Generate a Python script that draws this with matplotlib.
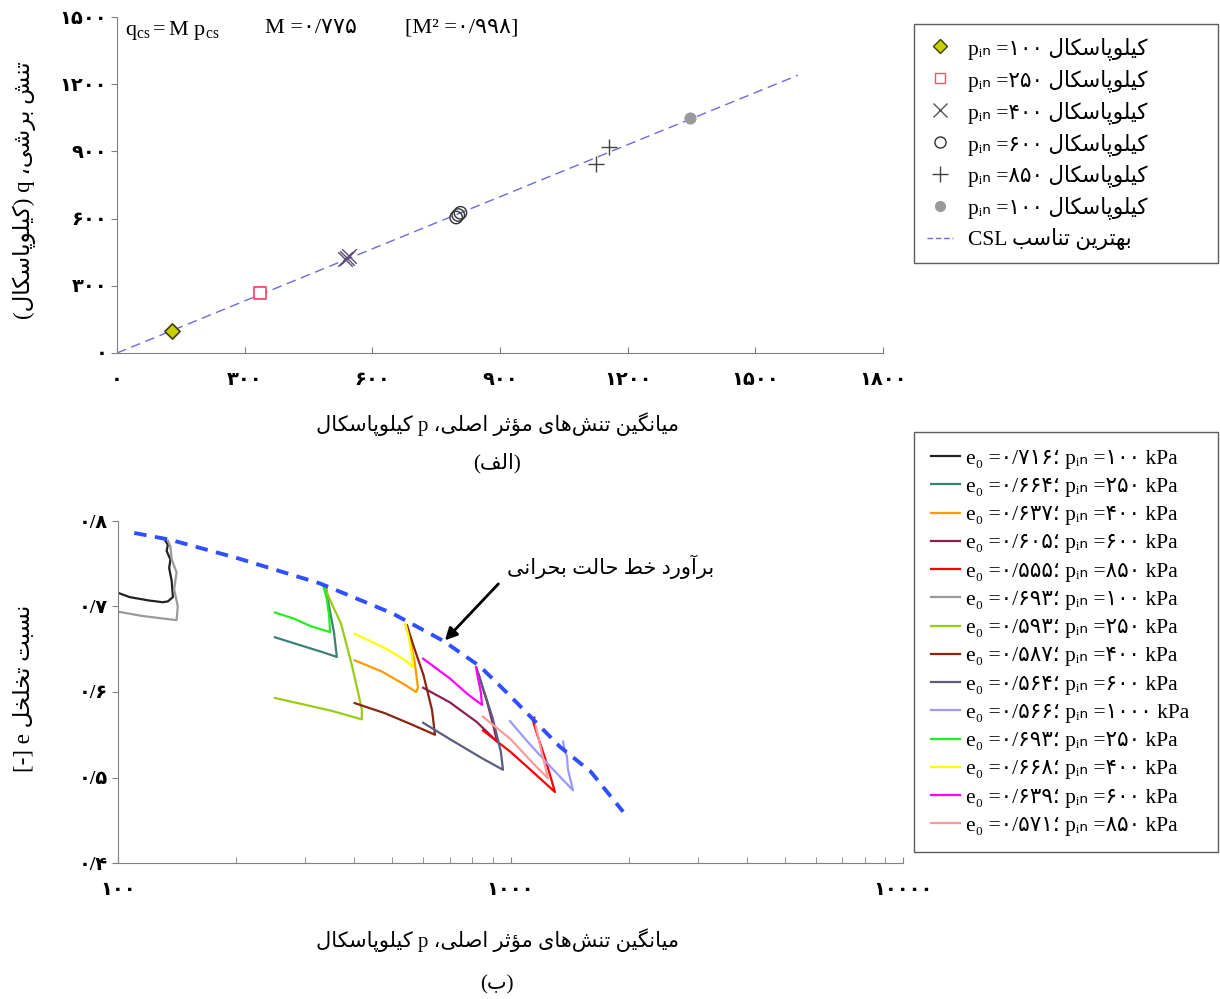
import matplotlib
matplotlib.use('Agg')
import matplotlib.pyplot as plt
from matplotlib import font_manager, ft2font
from matplotlib.ticker import FuncFormatter, MultipleLocator, LogLocator, NullFormatter
from matplotlib.lines import Line2D

plt.rcParams['font.family'] = ['Liberation Serif', 'DejaVu Sans']
plt.rcParams['mathtext.fontset'] = 'custom'
plt.rcParams['mathtext.rm'] = 'Liberation Serif'
plt.rcParams['mathtext.it'] = 'Liberation Serif:italic'

# ---- data: top chart, critical state points (p, q) in kPa ----
cs_p_100 = [129]
cs_q_100 = [98]
cs_p_250 = [336]
cs_q_250 = [268]
cs_p_400 = [535, 541, 546]
cs_q_400 = [419, 425, 431]
cs_p_600 = [797, 802, 807]
cs_q_600 = [605, 616, 626]
cs_p_850 = [1126, 1155]
cs_q_850 = [844, 920]
cs_p_1000 = [1346]
cs_q_1000 = [1049]
csl_p = [0, 1600]
csl_q = [0, 1240]

# ---- data: bottom chart, e - log p paths ----
curve_p = [
    [100, 107, 120, 130, 134, 138, 137, 135, 136, 133, 134, 132],
    [251, 290, 330, 361, 355, 345, 339],
    [401, 470, 540, 575, 581, 570, 555, 540],
    [599, 700, 820, 924, 905, 870, 830],
    [851, 1000, 1150, 1298, 1230, 1170, 1141, 1150],
    [100, 115, 130, 141, 142, 139, 141, 137, 136, 134],
    [251, 300, 350, 418, 418, 395, 370, 345, 335],
    [401, 480, 560, 642, 631, 600, 565, 545],
    [599, 700, 850, 957, 945, 900, 850, 820],
    [997, 1100, 1250, 1443, 1400, 1393, 1370, 1361],
    [251, 280, 310, 347, 345, 340, 333],
    [401, 480, 540, 564, 560, 550, 540],
    [599, 700, 780, 846, 840, 825, 817],
    [851, 1000, 1150, 1246, 1200, 1160],
]
curve_e = [
    [0.716, 0.711, 0.707, 0.705, 0.706, 0.711, 0.73, 0.745, 0.755, 0.765, 0.772, 0.777],
    [0.664, 0.655, 0.647, 0.641, 0.67, 0.70, 0.722],
    [0.637, 0.624, 0.608, 0.600, 0.605, 0.635, 0.66, 0.678],
    [0.605, 0.588, 0.565, 0.542, 0.56, 0.59, 0.62],
    [0.555, 0.530, 0.505, 0.483, 0.52, 0.55, 0.566, 0.57],
    [0.694, 0.689, 0.686, 0.684, 0.70, 0.72, 0.74, 0.755, 0.77, 0.777],
    [0.593, 0.585, 0.578, 0.568, 0.58, 0.63, 0.68, 0.71, 0.725],
    [0.587, 0.575, 0.562, 0.550, 0.579, 0.62, 0.655, 0.678],
    [0.564, 0.545, 0.522, 0.509, 0.53, 0.57, 0.605, 0.628],
    [0.566, 0.543, 0.515, 0.485, 0.51, 0.524, 0.535, 0.542],
    [0.693, 0.686, 0.677, 0.670, 0.69, 0.71, 0.725],
    [0.668, 0.651, 0.637, 0.629, 0.645, 0.665, 0.68],
    [0.639, 0.616, 0.597, 0.585, 0.60, 0.618, 0.629],
    [0.571, 0.545, 0.515, 0.499, 0.53, 0.56],
]
curve_e0 = ['0/716', '0/664', '0/637', '0/605', '0/555', '0/693', '0/593',
            '0/587', '0/564', '0/566', '0/693', '0/668', '0/639', '0/571']
curve_pin = ['100', '250', '400', '600', '850', '100', '250',
             '400', '600', '1000', '250', '400', '600', '850']
curve_colors = ['#222222', '#3f7f7a', '#ff9a00', '#8e1f55', '#ff0000', '#9a9a9a',
                '#9acd10', '#8b2410', '#5c5c82', '#9b9bff', '#22ee22', '#ffff00',
                '#ff00ff', '#ff9a9a']

csl_e_p = [110, 136, 200, 327, 500, 673, 836, 1000, 1336, 1600, 1936]
csl_e_e = [0.786, 0.778, 0.757, 0.727, 0.692, 0.660, 0.630, 0.595, 0.536, 0.507, 0.460]

# ---- Persian text helpers (shaping + right-to-left) ----
FORMS = {
    'ا': ('\uFE8D', '\uFE8E', None, None),
    'آ': ('\uFE81', '\uFE82', None, None),
    'ب': ('\uFE8F', '\uFE90', '\uFE91', '\uFE92'),
    'پ': ('\uFB56', '\uFB57', '\uFB58', '\uFB59'),
    'ت': ('\uFE95', '\uFE96', '\uFE97', '\uFE98'),
    'ث': ('\uFE99', '\uFE9A', '\uFE9B', '\uFE9C'),
    'ج': ('\uFE9D', '\uFE9E', '\uFE9F', '\uFEA0'),
    'چ': ('\uFB7A', '\uFB7B', '\uFB7C', '\uFB7D'),
    'ح': ('\uFEA1', '\uFEA2', '\uFEA3', '\uFEA4'),
    'خ': ('\uFEA5', '\uFEA6', '\uFEA7', '\uFEA8'),
    'د': ('\uFEA9', '\uFEAA', None, None),
    'ذ': ('\uFEAB', '\uFEAC', None, None),
    'ر': ('\uFEAD', '\uFEAE', None, None),
    'ز': ('\uFEAF', '\uFEB0', None, None),
    'ژ': ('\uFB8A', '\uFB8B', None, None),
    'س': ('\uFEB1', '\uFEB2', '\uFEB3', '\uFEB4'),
    'ش': ('\uFEB5', '\uFEB6', '\uFEB7', '\uFEB8'),
    'ص': ('\uFEB9', '\uFEBA', '\uFEBB', '\uFEBC'),
    'ض': ('\uFEBD', '\uFEBE', '\uFEBF', '\uFEC0'),
    'ط': ('\uFEC1', '\uFEC2', '\uFEC3', '\uFEC4'),
    'ظ': ('\uFEC5', '\uFEC6', '\uFEC7', '\uFEC8'),
    'ع': ('\uFEC9', '\uFECA', '\uFECB', '\uFECC'),
    'غ': ('\uFECD', '\uFECE', '\uFECF', '\uFED0'),
    'ف': ('\uFED1', '\uFED2', '\uFED3', '\uFED4'),
    'ق': ('\uFED5', '\uFED6', '\uFED7', '\uFED8'),
    'ک': ('\uFB8E', '\uFB8F', '\uFB90', '\uFB91'),
    'گ': ('\uFB92', '\uFB93', '\uFB94', '\uFB95'),
    'ل': ('\uFEDD', '\uFEDE', '\uFEDF', '\uFEE0'),
    'م': ('\uFEE1', '\uFEE2', '\uFEE3', '\uFEE4'),
    'ن': ('\uFEE5', '\uFEE6', '\uFEE7', '\uFEE8'),
    'ه': ('\uFEE9', '\uFEEA', '\uFEEB', '\uFEEC'),
    'و': ('\uFEED', '\uFEEE', None, None),
    'ؤ': ('\uFE85', '\uFE86', None, None),
    'ی': ('\uFBFC', '\uFBFD', '\uFBFE', '\uFBFF'),
    'ئ': ('\uFE89', '\uFE8A', '\uFE8B', '\uFE8C'),
}
LAM_ALEF = {'ا': ('\uFEFB', '\uFEFC'), 'آ': ('\uFEF5', '\uFEF6')}
CMAP = ft2font.FT2Font(font_manager.findfont('DejaVu Sans')).get_charmap()


def shape(s):
    out = []
    i = 0
    while i < len(s):
        ch = s[i]
        if ch not in FORMS:
            out.append(ch)
            i += 1
            continue
        prev = s[i - 1] if i > 0 else ''
        nxt = s[i + 1] if i + 1 < len(s) else ''
        jp = prev in FORMS and FORMS[prev][2] is not None
        if ch == 'ل' and nxt in LAM_ALEF:
            out.append(LAM_ALEF[nxt][1 if jp else 0])
            i += 2
            continue
        jn = FORMS[ch][2] is not None and nxt in FORMS
        iso, fin, ini, med = FORMS[ch]
        g = med if (jp and jn) else fin if jp else ini if jn else iso
        out.append(g if ord(g) in CMAP else ch)
        i += 1
    return ''.join(out)


def fa(s):
    return shape(s).replace('\u200c', '')[::-1]


def fdig(s):
    return s.translate(str.maketrans('0123456789', '۰۱۲۳۴۵۶۷۸۹'))


kpa = fa('کیلوپاسکال')
pin = 'p\u1d62\u2099'

fig = plt.figure(figsize=(12.2, 9.99), dpi=100)
W, H = 1220.0, 999.0

# ---- top chart ----
ax1 = fig.add_axes([117 / W, 1 - 353 / H, 766 / W, 336 / H])
ax1.plot(csl_p, csl_q, color='#6b6bdf', lw=1.0, dashes=(7, 4), zorder=1)
ax1.scatter(cs_p_100, cs_q_100, marker='D', s=60, facecolor='#c8d000', edgecolor='#404000', lw=1.2, zorder=3)
ax1.scatter(cs_p_250, cs_q_250, marker='s', s=70, facecolor='white', edgecolor='#ff4a6a', lw=1.3, zorder=3)
ax1.scatter(cs_p_400, cs_q_400, marker='x', s=110, color='#5a4a78', lw=1.0, zorder=3)
ax1.scatter(cs_p_600, cs_q_600, marker='o', s=80, facecolor='none', edgecolor='#333333', lw=1.0, zorder=3)
ax1.scatter(cs_p_850, cs_q_850, marker='+', s=120, color='#444444', lw=1.0, zorder=3)
ax1.scatter(cs_p_1000, cs_q_1000, marker='o', s=60, color='#9a9a9a', zorder=3)
ax1.set_xlim(0, 1800)
ax1.set_ylim(0, 1500)
ax1.xaxis.set_major_locator(MultipleLocator(300))
ax1.yaxis.set_major_locator(MultipleLocator(300))
fmt_int = FuncFormatter(lambda v, _: fdig(str(int(round(v)))))
ax1.xaxis.set_major_formatter(fmt_int)
ax1.yaxis.set_major_formatter(fmt_int)
ax1.tick_params(axis='x', direction='in', length=4, pad=14, labelsize=14, color='#808080')
ax1.tick_params(axis='y', direction='out', length=4, pad=3, labelsize=14, color='#808080')
for side in ['top', 'right']:
    ax1.spines[side].set_visible(False)
for side in ['left', 'bottom']:
    ax1.spines[side].set_color('#808080')

ax1.text(0.01, 0.995, r'$\mathrm{q}_{\mathrm{cs}} = \mathrm{M\ p}_{\mathrm{cs}}$', transform=ax1.transAxes,
         fontsize=16, va='top', ha='left')
ax1.text(0.193, 0.995, 'M =' + fdig('0/775'), transform=ax1.transAxes, fontsize=16, va='top', ha='left')
ax1.text(0.376, 0.995, '[M\u00b2 =' + fdig('0/998') + ']', transform=ax1.transAxes, fontsize=16,
         va='top', ha='left')

top_handles = [
    Line2D([], [], ls='none', marker='D', ms=7, mfc='#c8d000', mec='#404000'),
    Line2D([], [], ls='none', marker='s', ms=7, mfc='white', mec='#ff4a6a'),
    Line2D([], [], ls='none', marker='x', ms=10, color='#555555'),
    Line2D([], [], ls='none', marker='o', ms=8, mfc='none', mec='#333333'),
    Line2D([], [], ls='none', marker='+', ms=11, color='#444444'),
    Line2D([], [], ls='none', marker='o', ms=7, color='#9a9a9a'),
    Line2D([], [], color='#6b6bdf', lw=1.0, dashes=(4, 2)),
]
top_pins = ['100', '250', '400', '600', '850', '100']
top_labels = [pin + ' =' + fdig(v) + ' ' + kpa for v in top_pins] + ['CSL ' + fa('بهترین تناسب')]
fig.legend(top_handles, top_labels, loc='upper left', bbox_to_anchor=(914 / W, 1 - 24 / H, 304 / W, 0.0),
           mode='expand', borderaxespad=0, frameon=True, fancybox=False, edgecolor='#333333',
           fontsize=15.5, handlelength=1.23, labelspacing=0.42, borderpad=0.59, handletextpad=0.68)

fig.text(497 / W, 1 - 424 / H, kpa + ' p ' + fa('میانگین تنش\u200cهای مؤثر اصلی،'),
         ha='center', va='center', fontsize=15)
fig.text(497 / W, 1 - 463 / H, '(' + fa('الف') + ')', ha='center', va='center', fontsize=15)
fig.text(24 / W, 1 - 190 / H, '(' + kpa + ') q ' + fa('تنش برشی،'), rotation=90,
         ha='center', va='center', fontsize=16.5)

# ---- bottom chart ----
ax2 = fig.add_axes([118 / W, 1 - 863 / H, 785 / W, 342 / H])
for px, ey, c in zip(curve_p, curve_e, curve_colors):
    ax2.plot(px, ey, color=c, lw=1.6)
ax2.plot(csl_e_p, csl_e_e, color='#2f50ff', lw=2.8, dashes=(3.2, 2.2), zorder=5)
ax2.set_xscale('log')
ax2.set_xlim(100, 10000)
ax2.set_ylim(0.4, 0.8)
ax2.xaxis.set_major_locator(LogLocator(base=10))
ax2.xaxis.set_minor_locator(LogLocator(base=10, subs=range(2, 10)))
ax2.xaxis.set_major_formatter(fmt_int)
ax2.xaxis.set_minor_formatter(NullFormatter())
ax2.yaxis.set_major_locator(MultipleLocator(0.1))
ax2.yaxis.set_major_formatter(FuncFormatter(lambda v, _: fdig(('%.1f' % v).replace('.', '/'))))
ax2.tick_params(axis='x', which='both', direction='in', length=4, pad=14, labelsize=14, color='#808080')
ax2.tick_params(axis='y', direction='out', length=4, pad=3, labelsize=14, color='#808080')
for side in ['top', 'right']:
    ax2.spines[side].set_visible(False)
for side in ['left', 'bottom']:
    ax2.spines[side].set_color('#808080')

ax2.annotate('', xy=(673, 0.658), xycoords='data', xytext=(0.487, 0.822), textcoords='axes fraction',
             arrowprops=dict(arrowstyle='-|>', color='black', lw=2, mutation_scale=18))
ax2.text(0.627, 0.865, fa('برآورد خط حالت بحرانی'), transform=ax2.transAxes,
         ha='center', va='center', fontsize=15)

bot_handles = [Line2D([], [], color=c, lw=1.6) for c in curve_colors]
bot_labels = ['e\u2080 =' + fdig(e0) + '\u061b ' + pin + ' =' + fdig(pv) + ' kPa'
              for e0, pv in zip(curve_e0, curve_pin)]
fig.legend(bot_handles, bot_labels, loc='upper left', bbox_to_anchor=(914 / W, 1 - 432 / H, 304 / W, 0.0),
           mode='expand', borderaxespad=0, frameon=True, fancybox=False, edgecolor='#333333',
           fontsize=15.5, handlelength=1.37, labelspacing=0.38, borderpad=0.77, handletextpad=0.28)

fig.text(497 / W, 1 - 940 / H, kpa + ' p ' + fa('میانگین تنش\u200cهای مؤثر اصلی،'),
         ha='center', va='center', fontsize=15)
fig.text(497 / W, 1 - 985 / H, '(' + fa('ب') + ')', ha='center', va='center', fontsize=15)
fig.text(24 / W, 1 - 688 / H, '[-] e ' + fa('نسبت تخلخل'), rotation=90,
         ha='center', va='center', fontsize=16.5)

fig.canvas.draw()
for ax in (ax1, ax2):
    plt.setp(ax.get_xticklabels() + ax.get_yticklabels(), fontweight='bold')

fig.savefig('out.png', dpi=100)
